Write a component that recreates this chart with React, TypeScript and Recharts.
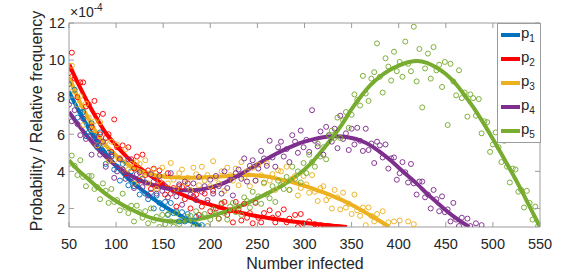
import React from 'react';
import { ComposedChart, Line, Scatter, XAxis, YAxis, Legend } from 'recharts';

const FONT = '"Liberation Sans", Arial, Helvetica, sans-serif';
const AXIS_COLOR = '#9c9c9c';
const TEXT_COLOR = '#262626';

const seriesNames = ['1', '2', '3', '4', '5'];
const seriesColors = ['#0072BD', '#FF0000', '#EDB120', '#7E2F8E', '#77AC30'];

const xTicks = [50, 100, 150, 200, 250, 300, 350, 400, 450, 500, 550];
const yTicks = [2, 4, 6, 8, 10, 12];

// number infected grid for the observed relative frequencies
const infected = [
  50, 53, 56, 59, 62, 65, 68, 71, 74, 77, 80, 83, 86, 89, 92, 95, 98, 101, 104, 107, 110, 113, 116, 119, 122,
  125, 128, 131, 134, 137, 140, 143, 146, 149, 152, 155, 158, 161, 164, 167, 170, 173, 176, 179, 182, 185, 188,
  191, 194, 197, 200, 203, 206, 209, 212, 215, 218, 221, 224, 227, 230, 233, 236, 239, 242, 245, 248, 251, 254,
  257, 260, 263, 266, 269, 272, 275, 278, 281, 284, 287, 290, 293, 296, 299, 302, 305, 308, 311, 314, 317, 320,
  323, 326, 329, 332, 335, 338, 341, 344, 347, 350, 353, 356, 359, 362, 365, 368, 371, 374, 377, 380, 383, 386,
  389, 392, 395, 398, 401, 404, 407, 410, 413, 416, 419, 422, 425, 428, 431, 434, 437, 440, 443, 446, 449, 452,
  455, 458, 461, 464, 467, 470, 473, 476, 479, 482, 485, 488, 491, 494, 497, 500, 503, 506, 509, 512, 515, 518,
  521, 524, 527, 530, 533, 536, 539, 542, 545, 548,
];

// observed relative frequencies (x 1e-4)
const p1Observed = [
  8.7, 7.8, 8.4, 6.9, 7.2, 7.2, 5.9, 6.1, 6.6, 5.9, 5.3, 6.1, 5.1, 4.4, 5.0, 4.9, 4.1, 4.25, 3.5, 4.4, 3.9, 3.25,
  4.0, 3.2, 3.3, 2.75, 3.6, 2.8, 2.5, 2.85, 2.0, 2.7, 2.3, 2.0, 2.35, 1.65, 2.3, 1.75, 1.85, 1.3, 1.8, 1.3, 1.7,
  1.35, 1.0, 1.55, null, 1.1,
];
const p2Observed = [
  9.3, 10.4, 9.0, 8.0, 8.8, 8.8, 7.5, 7.6, 6.4, 7.8, 7.0, 6.0, 7.1, 5.8, 6.0, 5.05, 6.8, 5.3, 4.7, 5.4, 3.9, 5.3,
  4.65, 4.15, 4.8, 3.5, 4.9, 3.8, 4.05, 3.05, 4.15, 3.2, 4.05, 3.35, 2.75, 3.9, 2.8, 3.1, 2.1, 3.2, 3.15, 2.5,
  3.35, 2.0, 2.65, 2.75, 1.65, 2.1, 2.8, 2.3, 1.85, 2.95, 2.0, 1.45, 2.25, 2.35, 1.65, 1.9, 1.25, 2.35, 1.95,
  1.35, 2.25, 1.5, 1.75, 1.2, 2.3, 1.5, 1.25, 1.75, null, 1.9, 1.5, 1.25, 1.7, null, 1.95, 1.25, 1.45, null,
  1.65, 1.0, 1.7, 1.2, null, 1.3, null, 1.15, null, 1.1,
];
const p3Observed = [
  8.5, 9.7, 8.3, 7.6, 8.05, 6.5, 7.65, 6.9, 6.25, 6.7, 5.4, 6.65, 5.45, 5.6, 4.55, 5.6, 4.6, 5.45, 4.7, 4.1, 5.2,
  4.1, 4.4, 3.35, 4.5, 4.4, 3.8, 4.6, 3.35, 3.95, 4.1, 3.05, 3.5, 4.2, 3.75, 3.35, 4.45, 3.55, 3.05, 3.9, 4.1,
  3.35, 3.65, 3.0, 4.2, 3.85, 3.25, 4.25, 3.5, 3.8, 3.2, 4.55, 3.65, 3.35, 4.0, 2.95, 4.2, 3.8, 3.5, 4.15, 3.25,
  4.5, 3.67, 4.0, 3.2, 4.2, 3.5, 4.35, 3.79, 3.35, 4.45, 3.5, 3.85, 3.0, 4.05, 4.0, 3.45, 4.25, 3.0, 3.6, 3.75,
  2.7, 3.1, 3.75, 3.3, 2.85, 3.8, 2.9, 2.4, 3.1, 3.2, 2.45, 2.65, 2.0, 3.0, 2.6, 1.95, 2.85, 2.05, 2.25, 1.7,
  2.75, 1.9, 1.6, 2.05, 1.1, 2.05, 1.6, 1.3, 1.7, null, 1.85, 1.05, 1.25, null, 1.3, null, 1.35, null, null, 1.3,
  null, 1.15,
];
const p4Observed = [
  7.6, 6.7, 7.3, 6.55, 5.95, 6.85, 5.75, 5.9, 4.9, 5.8, 5.6, 4.9, 5.6, 4.25, 4.8, 4.8, 3.65, 4.0, 4.65, 4.1, 3.6,
  4.65, 3.65, 3.1, 3.85, 3.95, 3.15, 3.4, 2.7, 3.85, 3.45, 2.8, 3.75, 2.95, 3.2, 2.6, 3.9, 2.95, 2.65, 3.3, 2.2,
  3.45, 3.05, 2.75, 3.35, 2.45, 3.7, 2.9, 3.2, 2.45, 3.55, 2.8, 3.75, 3.2, 2.8, 4.0, 3.1, 3.55, 2.7, 3.9, 4.1,
  3.6, 4.7, 3.45, 4.3, 4.6, 3.5, 4.15, 5.1, 4.7, 4.3, 5.65, 4.75, 4.25, 5.3, 5.6, 4.8, 5.2, 4.5, 5.95, 5.6, 5.0,
  6.2, 5.3, 5.7, 5.05, 7.3, 5.65, 5.35, 6.15, 4.9, 6.4, 5.95, 5.6, 6.3, 5.25, 7.0, 5.75, 6.05, 5.15, 6.3, 5.45,
  6.35, 5.65, 5.1, 6.3, 5.15, 5.5, 4.45, 5.6, 5.4, 4.75, 5.45, 4.15, 4.7, 4.75, 3.55, 3.9, 4.5, 3.95, 3.4, 4.4,
  3.35, 2.75, 3.45, 3.45, 2.6, 2.75, 2.0, 3.0, 2.5, 1.85, 2.65, 1.8, 1.95, 1.3, 2.3, 1.4, 1.05, 1.5, null, 1.45,
  1.05, null, 1.2, null, 1.1,
];
const p5Observed = [
  4.4, 4.85, 4.3, 3.8, 4.6, 3.7, 3.2, 3.75, 3.75, 3.05, 3.15, 2.5, 3.35, 2.95, 2.3, 3.05, 2.35, 2.45, 1.9, 2.8,
  2.05, 1.75, 2.15, 1.3, 2.15, 1.8, 1.5, 1.85, 1.2, 2.0, 1.35, 1.55, 1.0, 1.65, 1.15, 1.7, 1.3, 1.02, 1.75, 1.15,
  1.4, null, 1.55, 1.6, 1.25, 1.85, 1.05, 1.55, 1.7, 1.05, 1.4, 1.95, 1.7, 1.45, 2.3, 1.75, 1.4, 2.1, 2.3, 1.8,
  2.1, 1.65, 2.6, 2.4, 2.05, 2.9, 2.35, 2.65, 2.25, 3.4, 2.75, 2.55, 3.2, 2.35, 3.5, 3.25, 3.05, 3.7, 3.0, 4.25,
  3.6, 4.0, 3.4, 4.45, 3.9, 4.9, 4.5, 4.25, 5.5, 4.8, 5.3, 4.65, 5.95, 6.2, 5.8, 6.9, 5.8, 6.75, 7.2, 6.35, 7.05,
  8.15, 7.85, 7.55, 9.15, 8.2, 7.8, 9.0, 9.35, 10.9, 9.1, 8.25, 10.1, 9.65, 8.9, 10.45, 9.4, 9.9, 9.1, 11.0, 9.8,
  9.4, 11.8, 8.85, 10.6, 7.45, 9.55, 10.35, 9.0, 10.7, 9.45, 9.75, 8.55, 9.9, 6.5, 9.8, 8.85, 8.1, 9.45, 7.95,
  8.25, 6.95, 8.15, 7.95, 7.0, 7.9, 6.05, 6.7, 6.65, 5.05, 5.45, 6.1, 5.3, 4.5, 5.65, 4.25, 3.4, 4.15, 4.1, 2.9,
  3.0, 2.05, 2.95, 2.3, 1.4, 2.1, 1.05,
];

// fitted probability curves (x 1e-4)
const p1FitX = [50, 60, 70, 80, 90, 100, 110, 120, 130, 140, 150, 160, 170, 180, 190];
const p1Fit = [8.3, 7.3, 6.4, 5.6, 4.9, 4.3, 3.75, 3.3, 2.9, 2.5, 2.15, 1.85, 1.55, 1.3, 1.05];
const p2FitX = [50, 60, 70, 80, 90, 100, 110, 120, 130, 140, 150, 160, 170, 180, 190, 200, 210, 220, 230, 240,
  250, 260, 270, 280, 290, 300, 310, 320, 330, 340, 345];
const p2Fit = [9.8, 8.7, 7.7, 6.8, 6.0, 5.4, 4.85, 4.4, 4.0, 3.65, 3.3, 3.0, 2.75, 2.55, 2.35, 2.2, 2.05, 1.92,
  1.8, 1.68, 1.58, 1.5, 1.42, 1.35, 1.28, 1.22, 1.17, 1.12, 1.07, 1.03, 1.0];
const p3FitX = [50, 60, 70, 80, 90, 100, 110, 120, 130, 140, 150, 160, 170, 180, 190, 200, 210, 220, 230, 240,
  250, 260, 270, 280, 290, 300, 310, 320, 330, 340, 350, 360, 370, 380, 390];
const p3Fit = [9.1, 7.9, 6.9, 6.0, 5.35, 4.85, 4.45, 4.15, 3.95, 3.8, 3.72, 3.68, 3.66, 3.66, 3.67, 3.69, 3.72,
  3.75, 3.78, 3.8, 3.78, 3.72, 3.62, 3.5, 3.37, 3.22, 3.05, 2.87, 2.67, 2.45, 2.2, 1.92, 1.62, 1.32, 1.0];
const p4FitX = [50, 60, 70, 80, 90, 100, 110, 120, 130, 140, 150, 160, 170, 180, 190, 200, 210, 220, 230, 240,
  250, 260, 270, 280, 290, 300, 310, 320, 330, 340, 350, 360, 370, 380, 390, 400, 410, 420, 430, 440, 450, 460, 475];
const p4Fit = [7.2, 6.5, 5.85, 5.25, 4.75, 4.3, 3.95, 3.65, 3.42, 3.25, 3.12, 3.03, 2.98, 2.98, 3.02, 3.12, 3.28,
  3.5, 3.78, 4.08, 4.38, 4.67, 4.95, 5.2, 5.42, 5.6, 5.74, 5.84, 5.89, 5.88, 5.8, 5.65, 5.4, 5.05, 4.65, 4.2,
  3.75, 3.3, 2.8, 2.35, 1.9, 1.5, 1.0];
const p5FitX = [50, 60, 70, 80, 90, 100, 110, 120, 130, 140, 150, 160, 170, 180, 190, 200, 210, 220, 230, 240,
  250, 260, 270, 280, 290, 300, 310, 320, 330, 340, 350, 360, 370, 380, 390, 400, 410, 420, 430, 440, 450, 460,
  470, 480, 490, 500, 510, 520, 530, 540, 550];
const p5Fit = [4.6, 4.05, 3.6, 3.15, 2.75, 2.4, 2.1, 1.85, 1.62, 1.45, 1.35, 1.3, 1.3, 1.35, 1.45, 1.58, 1.73,
  1.9, 2.1, 2.3, 2.55, 2.8, 3.05, 3.35, 3.7, 4.1, 4.6, 5.2, 5.85, 6.55, 7.35, 8.05, 8.65, 9.1, 9.45, 9.7, 9.88,
  9.95, 9.85, 9.6, 9.25, 8.75, 8.1, 7.4, 6.6, 5.75, 4.85, 3.95, 3.0, 2.0, 1.0];

type Pt = { x: number; y: number };
const toPoints = (xs: number[], ys: (number | null)[]): Pt[] =>
  ys.map((y, i) => ({ x: xs[i], y })).filter((p) => p.y !== null) as Pt[];

const observed = [p1Observed, p2Observed, p3Observed, p4Observed, p5Observed].map((ys) => toPoints(infected, ys));
const fits = [
  toPoints(p1FitX, p1Fit),
  toPoints(p2FitX, p2Fit),
  toPoints(p3FitX, p3Fit),
  toPoints(p4FitX, p4Fit),
  toPoints(p5FitX, p5Fit),
];

const bottomTick = (props: any) => {
  const { x, y, payload } = props;
  return (
    <g>
      <line x1={x} y1={y} x2={x} y2={y - 5} stroke={AXIS_COLOR} />
      <text x={x} y={y + 21.5} textAnchor="middle" fontSize={14.5} fontFamily={FONT} fill={TEXT_COLOR}>
        {payload.value}
      </text>
    </g>
  );
};
const topTick = (props: any) => {
  const { x, y } = props;
  return <line x1={x} y1={y} x2={x} y2={y + 5} stroke={AXIS_COLOR} />;
};
const leftTick = (props: any) => {
  const { x, y, payload } = props;
  return (
    <g>
      <line x1={x} y1={y} x2={x + 5} y2={y} stroke={AXIS_COLOR} />
      <text x={x - 4} y={y + 5.3} textAnchor="end" fontSize={14.5} fontFamily={FONT} fill={TEXT_COLOR}>
        {payload.value}
      </text>
    </g>
  );
};
const rightTick = (props: any) => {
  const { x, y } = props;
  return <line x1={x - 5} y1={y} x2={x} y2={y} stroke={AXIS_COLOR} />;
};

const circleShape = (color: string) => (props: any) => {
  const { cx, cy } = props;
  if (cx == null || cy == null) return <g />;
  return <circle cx={cx} cy={cy} r={2.5} fill="none" stroke={color} strokeWidth={0.95} />;
};

const legendContent = () => (
  <div
    style={{
      width: 44,
      height: 120,
      boxSizing: 'border-box',
      border: `1px solid ${AXIS_COLOR}`,
      background: '#fff',
      fontFamily: FONT,
      color: TEXT_COLOR,
      position: 'relative',
    }}
  >
    {seriesNames.map((n, i) => (
      <div
        key={n}
        style={{ position: 'absolute', left: 3, top: 1 + i * 24, height: 20, display: 'flex', alignItems: 'center' }}
      >
        <span style={{ display: 'inline-block', width: 19, height: 3.5, background: seriesColors[i] }} />
        <span style={{ fontSize: 15, marginLeft: 1, lineHeight: '15px' }}>
          p<sub style={{ fontSize: 10 }}>{n}</sub>
        </span>
      </div>
    ))}
  </div>
);

export default function App() {
  return (
    <div style={{ position: 'absolute', left: 0, top: 0 }}>
      <ComposedChart width={581} height={273} margin={{ top: 22, right: 40, bottom: 0, left: 0 }}>
        <XAxis
          type="number"
          dataKey="x"
          domain={[50, 550]}
          ticks={xTicks}
          interval={0}
          allowDataOverflow
          height={46}
          tickSize={0}
          tickMargin={0}
          tick={bottomTick}
          axisLine={{ stroke: AXIS_COLOR }}
          label={{
            content: () => (
              <text x={305} y={269} textAnchor="middle" fontSize={16} fontFamily={FONT} fill={TEXT_COLOR}>
                Number infected
              </text>
            ),
          }}
        />
        <XAxis
          xAxisId="top"
          orientation="top"
          type="number"
          dataKey="x"
          domain={[50, 550]}
          ticks={xTicks}
          interval={0}
          allowDataOverflow
          height={1}
          tickSize={0}
          tickMargin={0}
          tick={topTick}
          axisLine={{ stroke: AXIS_COLOR }}
          label={{
            content: () => (
              <text x={70} y={17} fontSize={14} fontFamily={FONT} fill={TEXT_COLOR}>
                ×10<tspan dy={-6} fontSize={10}>-4</tspan>
              </text>
            ),
          }}
        />
        <YAxis
          type="number"
          dataKey="y"
          domain={[1, 12]}
          ticks={yTicks}
          interval={0}
          allowDataOverflow
          width={69}
          tickSize={0}
          tickMargin={0}
          tick={leftTick}
          axisLine={{ stroke: AXIS_COLOR }}
          label={{
            content: () => (
              <text
                x={42}
                y={121}
                transform="rotate(-90 42 121)"
                textAnchor="middle"
                fontSize={16}
                fontFamily={FONT}
                fill={TEXT_COLOR}
              >
                Probability / Relative frequency
              </text>
            ),
          }}
        />
        <YAxis
          yAxisId="right"
          orientation="right"
          type="number"
          dataKey="y"
          domain={[1, 12]}
          ticks={yTicks}
          interval={0}
          allowDataOverflow
          width={1}
          tickSize={0}
          tickMargin={0}
          tick={rightTick}
          axisLine={{ stroke: AXIS_COLOR }}
        />
        {observed.map((pts, i) => (
          <Scatter
            key={`obs-${i}`}
            name={`obs${i}`}
            data={pts}
            dataKey="y"
            shape={circleShape(seriesColors[i])}
            isAnimationActive={false}
            legendType="none"
          />
        ))}
        {fits.map((pts, i) => (
          <Line
            key={`fit-${i}`}
            name={`p${seriesNames[i]}`}
            data={pts}
            dataKey="y"
            type="monotone"
            stroke={seriesColors[i]}
            strokeWidth={4}
            dot={false}
            activeDot={false}
            isAnimationActive={false}
          />
        ))}
        <Legend
          layout="vertical"
          align="center"
          verticalAlign="middle"
          content={legendContent}
          wrapperStyle={{ left: 497, top: 23, right: 'auto', bottom: 'auto', width: 44, height: 120 }}
        />
      </ComposedChart>
    </div>
  );
}
